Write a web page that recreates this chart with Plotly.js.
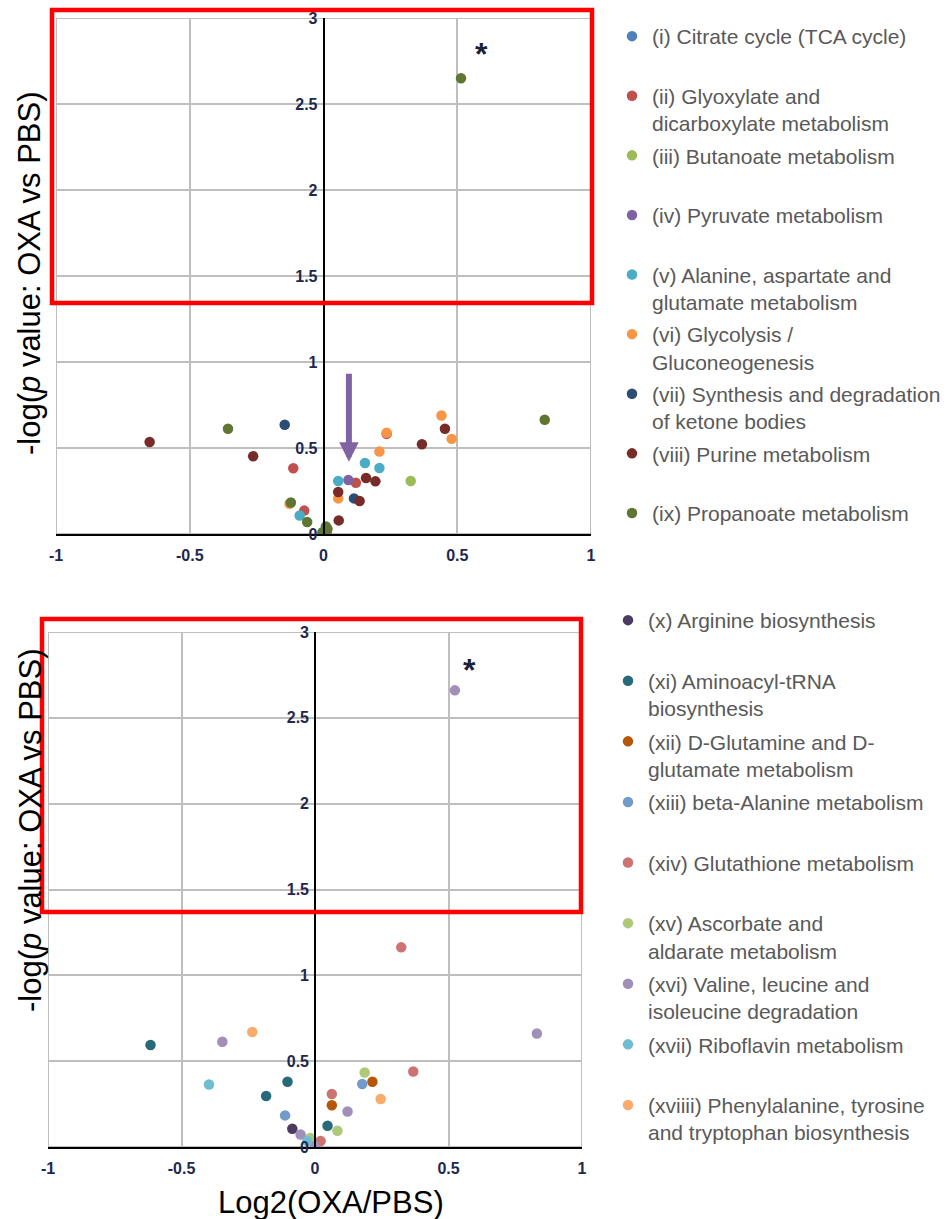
<!DOCTYPE html>
<html>
<head>
<meta charset="utf-8">
<script src="https://cdn.plot.ly/plotly-3.0.1.min.js"></script>
<style>
  html, body { margin: 0; padding: 0; background: #fff; }
  #chart { width: 948px; height: 1219px; }
</style>
</head>
<body>
<div id="chart"></div>
<script>
// ---------- Tick labels ----------
const xTickVals = [-1, -0.5, 0, 0.5, 1];
const xTickText = ['-1', '-0.5', '0', '0.5', '1'];
const yTickVals = [0, 0.5, 1, 1.5, 2, 2.5, 3];
const yTickText = ['0', '0.5', '1', '1.5', '2', '2.5', '3'];

// ---------- Upper panel: pathway names ----------
const topNames = [
  '(i) Citrate cycle (TCA cycle)',
  '(ii) Glyoxylate and<br>dicarboxylate metabolism',
  '(iii) Butanoate metabolism',
  '(iv) Pyruvate metabolism',
  '(v) Alanine, aspartate and<br>glutamate metabolism',
  '(vi) Glycolysis /<br>Gluconeogenesis',
  '(vii) Synthesis and degradation<br>of ketone bodies',
  '(viii) Purine metabolism',
  '(ix) Propanoate metabolism'
];
const topColors = ['#4F81BD','#C0504D','#9BBB59','#8064A2','#4BACC6','#F79646','#2C4D75','#772C2A','#5F7530'];

// Upper panel values: Log2(OXA/PBS) and -log(p)
const tcaX = [null];
const tcaY = [null];
const glyoxX = [-0.113, 0.121, -0.072, 0.236, 0.012];
const glyoxY = [0.382, 0.298, 0.136, 0.582, 0.006];
const butanX = [0.326];
const butanY = [0.308];
const pyruvX = [0.093];
const pyruvY = [0.314];
const alanX = [0.155, 0.209, 0.055, -0.089];
const alanY = [0.413, 0.384, 0.308, 0.108];
const glycoX = [0.441, 0.479, 0.236, 0.209, 0.055, -0.127];
const glycoY = [0.689, 0.553, 0.589, 0.479, 0.207, 0.176];
const ketoneX = [-0.145, 0.114];
const ketoneY = [0.635, 0.207];
const purineX = [-0.650, -0.263, 0.454, 0.368, 0.159, 0.194, 0.055, 0.135, 0.057];
const purineY = [0.535, 0.452, 0.612, 0.522, 0.326, 0.306, 0.244, 0.192, 0.079];
const propX = [0.514, -0.357, 0.827, -0.122, -0.061, 0.009, 0.015, -0.004];
const propY = [2.65, 0.612, 0.664, 0.183, 0.070, 0.044, 0.030, 0.010];

// ---------- Lower panel: pathway names ----------
const botNames = [
  '(x) Arginine biosynthesis',
  '(xi) Aminoacyl-tRNA<br>biosynthesis',
  '(xii) D-Glutamine and D-<br>glutamate metabolism',
  '(xiii) beta-Alanine metabolism',
  '(xiv) Glutathione metabolism',
  '(xv) Ascorbate and<br>aldarate metabolism',
  '(xvi) Valine, leucine and<br>isoleucine degradation',
  '(xvii) Riboflavin metabolism',
  '(xviiii) Phenylalanine, tyrosine<br>and tryptophan biosynthesis'
];
const botColors = ['#4D3B62','#276A7C','#B65708','#729ACA','#CD7371','#AFC97A','#A18FB9','#6FBDD1','#F9AB6B'];

const argX = [-0.085];
const argY = [0.106];
const trnaX = [-0.616, -0.103, -0.183, 0.047];
const trnaY = [0.594, 0.380, 0.297, 0.124];
const glnX = [0.215, 0.063];
const glnY = [0.380, 0.243];
const balaX = [0.177, -0.112];
const balaY = [0.367, 0.184];
const gshX = [0.323, 0.368, 0.063, 0.021];
const gshY = [1.163, 0.440, 0.309, 0.035];
const ascX = [0.186, 0.084, -0.018];
const ascY = [0.434, 0.095, 0.052];
const bcaaX = [0.524, -0.347, 0.831, 0.122, -0.054, 0.000];
const bcaaY = [2.66, 0.613, 0.661, 0.207, 0.073, 0.005];
const riboX = [-0.397, -0.029];
const riboY = [0.364, 0.034];
const pheX = [-0.235, 0.246];
const pheY = [0.670, 0.280];

const topSeries = [[tcaX,tcaY],[glyoxX,glyoxY],[butanX,butanY],[pyruvX,pyruvY],[alanX,alanY],[glycoX,glycoY],[ketoneX,ketoneY],[purineX,purineY],[propX,propY]];
const botSeries = [[argX,argY],[trnaX,trnaY],[glnX,glnY],[balaX,balaY],[gshX,gshY],[ascX,ascY],[bcaaX,bcaaY],[riboX,riboY],[pheX,pheY]];

// ---------- Figure geometry ----------
const W = 948, H = 1219;
const px = v => v / W;
const py = v => 1 - v / H;
const FONT = 'Arial, "Liberation Sans", sans-serif';

const traces = [];
function pad(name) { return name.indexOf('<br>') >= 0 ? name : name + '<br>\u00a0'; }

topSeries.forEach((s, i) => {
  traces.push({
    type: 'scatter', mode: 'markers', x: s[0], y: s[1],
    xaxis: 'x', yaxis: 'y',
    name: pad(topNames[i]), legend: 'legend', legendgroup: 't' + i, showlegend: true,
    marker: { color: topColors[i], size: 10.5, line: { width: 0 } },
    hoverinfo: 'x+y+name'
  });
});
botSeries.forEach((s, i) => {
  traces.push({
    type: 'scatter', mode: 'markers', x: s[0], y: s[1],
    xaxis: 'x2', yaxis: 'y2',
    name: pad(botNames[i]), legend: 'legend2', legendgroup: 'b' + i, showlegend: true,
    marker: { color: botColors[i], size: 10.5, line: { width: 0 } },
    hoverinfo: 'x+y+name'
  });
});

const tickFont = { family: FONT, size: 16, color: '#1E2850', weight: 'bold' };
const GRID = '#BEBEBE';

function xAxisDef(domain, anchor) {
  return {
    domain: domain, anchor: anchor, range: [-1, 1],
    tickmode: 'array', tickvals: xTickVals, ticktext: xTickText,
    showgrid: true, gridcolor: GRID, gridwidth: 2,
    zeroline: false, showline: true, linecolor: '#000', linewidth: 1.6,
    ticks: '', ticklabelstandoff: 6, tickfont: tickFont, fixedrange: true
  };
}
function yAxisDef(domain, pos) {
  return {
    domain: domain, anchor: 'free', position: pos, range: [0, 3],
    tickmode: 'array', tickvals: yTickVals, ticktext: yTickText,
    showgrid: true, gridcolor: GRID, gridwidth: 2,
    zeroline: false, showline: true, linecolor: '#000', linewidth: 1.6,
    ticks: '', ticklabelstandoff: 2, tickfont: tickFont, fixedrange: true
  };
}

const topXDom = [px(56), px(591)];
const botXDom = [px(48), px(582)];

const layout = {
  width: W, height: H,
  margin: { l: 0, r: 0, t: 0, b: 0 },
  paper_bgcolor: '#fff', plot_bgcolor: '#fff',
  font: { family: FONT },
  xaxis: xAxisDef(topXDom, 'y'),
  yaxis: yAxisDef([py(534), py(18)], (topXDom[0] + topXDom[1]) / 2),
  xaxis2: xAxisDef(botXDom, 'y2'),
  yaxis2: yAxisDef([py(1147), py(632)], (botXDom[0] + botXDom[1]) / 2),
  legend: {
    x: px(612), xanchor: 'left', y: py(16), yanchor: 'top',
    font: { family: FONT, size: 21, color: '#595959' },
    bgcolor: 'rgba(0,0,0,0)', valign: 'top', tracegroupgap: 2, traceorder: 'grouped'
  },
  legend2: {
    x: px(608), xanchor: 'left', y: py(600), yanchor: 'top',
    font: { family: FONT, size: 21, color: '#595959' },
    bgcolor: 'rgba(0,0,0,0)', valign: 'top', tracegroupgap: 3, traceorder: 'grouped'
  },
  shapes: [
    { type: 'rect', xref: 'x', yref: 'y', x0: -1, x1: 1, y0: 0, y1: 3, line: { color: GRID, width: 2 }, layer: 'below' },
    { type: 'rect', xref: 'x2', yref: 'y2', x0: -1, x1: 1, y0: 0, y1: 3, line: { color: GRID, width: 2 }, layer: 'below' },
    { type: 'rect', xref: 'paper', yref: 'paper', x0: px(52), x1: px(592), y0: py(303), y1: py(10), line: { color: '#FF0000', width: 4.5 } },
    { type: 'rect', xref: 'paper', yref: 'paper', x0: px(42), x1: px(581), y0: py(912), y1: py(619), line: { color: '#FF0000', width: 4.5 } }
  ],
  annotations: [
    { xref: 'paper', yref: 'paper', x: px(30), y: py(273), text: '-log(<i>p</i> value: OXA vs PBS)', textangle: -90,
      showarrow: false, font: { family: FONT, size: 31, color: '#000' }, xanchor: 'center', yanchor: 'middle' },
    { xref: 'paper', yref: 'paper', x: px(30), y: py(830), text: '-log(<i>p</i> value: OXA vs PBS)', textangle: -90,
      showarrow: false, font: { family: FONT, size: 31, color: '#000' }, xanchor: 'center', yanchor: 'middle' },
    { xref: 'paper', yref: 'paper', x: px(331), y: py(1202), text: 'Log2(OXA/PBS)',
      showarrow: false, font: { family: FONT, size: 31, color: '#000' }, xanchor: 'center', yanchor: 'middle' },
    { xref: 'x', yref: 'y', x: 0.589, y: 2.79, text: '<b>*</b>', showarrow: false,
      font: { family: FONT, size: 32, color: '#1A2238' }, xanchor: 'center', yanchor: 'middle' },
    { xref: 'x2', yref: 'y2', x: 0.58, y: 2.78, text: '<b>*</b>', showarrow: false,
      font: { family: FONT, size: 32, color: '#1A2238' }, xanchor: 'center', yanchor: 'middle' },
    { xref: 'x', yref: 'y', x: 0.095, y: 0.42, axref: 'x', ayref: 'y', ax: 0.095, ay: 0.94,
      text: '', showarrow: true, arrowhead: 2, arrowwidth: 6, arrowsize: 0.65, arrowcolor: '#8064A2' }
  ]
};

Plotly.newPlot('chart', traces, layout, { displayModeBar: false });
</script>
</body>
</html>
